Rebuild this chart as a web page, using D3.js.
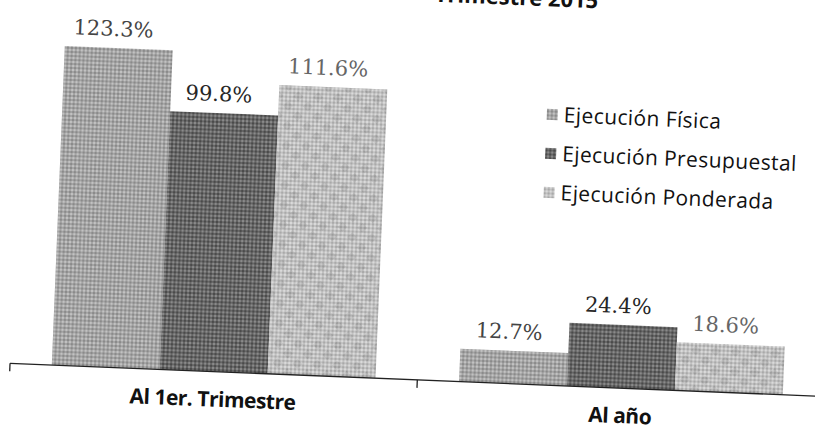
<!DOCTYPE html>
<html>
<head>
<meta charset="utf-8">
<script src="https://cdn.jsdelivr.net/npm/d3@7"></script>
<style>
  html, body { margin: 0; padding: 0; background: #fff; }
  svg { display: block; }
</style>
</head>
<body>
<script>
// ---- data ----
const categories = ["Al 1er. Trimestre", "Al año"];
const series = ["Ejecución Física", "Ejecución Presupuestal", "Ejecución Ponderada"];
const fisica = [123.3, 12.7];
const presupuestal = [99.8, 24.4];
const ponderada = [111.6, 18.6];
const titleLines = ["Avance Físico y Presupuestal al 1er.", "Trimestre 2015"];

const seriesValues = [fisica, presupuestal, ponderada];
const W = 815, H = 430;
const ANGLE = 2.33; // scanned page is slightly rotated

const svg = d3.select("body").append("svg").attr("width", W).attr("height", H);
svg.append("rect").attr("width", W).attr("height", H).attr("fill", "#fff");

// halftone-like patterns
const defs = svg.append("defs");
const patSpec = [
  { id: "p0", a: "#8a8a8a", b: "#c2c2c2", c: "#a4a4a4" },
  { id: "p1", a: "#4a4a4a", b: "#8a8a8a", c: "#666666" },
  { id: "p2", a: "#a9a9a9", b: "#dadada", c: "#c2c2c2" }
];
patSpec.forEach(p => {
  const pt = defs.append("pattern").attr("id", p.id)
    .attr("patternUnits", "userSpaceOnUse").attr("width", 4).attr("height", 4);
  pt.append("rect").attr("width", 4).attr("height", 4).attr("fill", p.c);
  pt.append("rect").attr("x", 0).attr("y", 0).attr("width", 2).attr("height", 2).attr("fill", p.a);
  pt.append("rect").attr("x", 2).attr("y", 2).attr("width", 2).attr("height", 2).attr("fill", p.b);
});
// coarse diamond texture for weighted series
const dia = defs.append("pattern").attr("id", "dia")
  .attr("patternUnits", "userSpaceOnUse").attr("width", 14).attr("height", 14)
  .attr("patternTransform", "rotate(45)");
dia.append("rect").attr("width", 7).attr("height", 7).attr("fill", "#000").attr("opacity", 0.08);

const g = svg.append("g").attr("transform", `rotate(${ANGLE})`);

// scales
const x0 = d3.scaleBand().domain(categories).range([24.8, 840]);
const x1 = d3.scaleBand().domain(series).range([0, x0.bandwidth()]).paddingOuter(0.387);
const y = d3.scaleLinear().domain([0, 140]).range([362.6, 0]);
const color = d3.scaleOrdinal().domain(series).range(["url(#p0)", "url(#p1)", "url(#p2)"]);
const labelColor = d3.scaleOrdinal().domain(series).range(["#444", "#262626", "#666"]);

// title (only the bottom edge of its last line shows in the scan)
g.append("text")
  .attr("text-anchor", "middle")
  .attr("font-family", "'Open Sans', sans-serif")
  .attr("font-weight", "bold").attr("font-size", 22)
  .attr("fill", "#111")
  .selectAll("tspan").data(titleLines).join("tspan")
  .attr("x", 516).attr("y", (d, i) => -16 - (titleLines.length - 1 - i) * 28)
  .text(d => d);

// bars
const rows = categories.map((c, i) => series.map((s, j) => ({ c, s, v: seriesValues[j][i] })));
const grp = g.selectAll("g.cat").data(rows).join("g")
  .attr("class", "cat")
  .attr("transform", d => `translate(${x0(d[0].c)},0)`);

grp.selectAll("rect.bar").data(d => d).join("rect")
  .attr("class", "bar")
  .attr("x", d => x1(d.s)).attr("width", x1.bandwidth())
  .attr("y", d => y(d.v)).attr("height", d => y(0) - y(d.v))
  .attr("fill", d => color(d.s));

grp.selectAll("rect.tex").data(d => d.filter(e => e.s === series[2])).join("rect")
  .attr("class", "tex")
  .attr("x", d => x1(d.s)).attr("width", x1.bandwidth())
  .attr("y", d => y(d.v)).attr("height", d => y(0) - y(d.v))
  .attr("fill", "url(#dia)");

grp.selectAll("text.lbl").data(d => d).join("text")
  .attr("class", "lbl")
  .attr("x", d => x1(d.s) + x1.bandwidth() / 2 - 6)
  .attr("y", d => y(d.v) - 12)
  .attr("text-anchor", "middle")
  .attr("font-family", "'DejaVu Serif', serif")
  .attr("font-size", 21)
  .attr("fill", d => labelColor(d.s))
  .text(d => d3.format(".1f")(d.v) + "%");

// axis
const r = x0.range();
g.append("line").attr("x1", r[0]).attr("x2", r[1]).attr("y1", y(0)).attr("y2", y(0))
  .attr("stroke", "#222").attr("stroke-width", 1.3);
const tickPos = [r[0]].concat(categories.map(c => x0(c) + x0.bandwidth()));
g.selectAll("line.tick").data(tickPos).join("line")
  .attr("class", "tick")
  .attr("x1", d => d).attr("x2", d => d)
  .attr("y1", y(0)).attr("y2", y(0) + 8)
  .attr("stroke", "#222").attr("stroke-width", 1.3);

g.selectAll("text.cat").data(categories).join("text")
  .attr("class", "cat")
  .attr("x", d => x0(d) + x0.bandwidth() / 2)
  .attr("y", y(0) + 35)
  .attr("text-anchor", "middle")
  .attr("font-family", "'Open Sans', sans-serif")
  .attr("font-weight", "bold").attr("font-size", 21)
  .attr("letter-spacing", -0.5)
  .attr("fill", "#111")
  .text(d => d);

// legend
const leg = g.append("g").attr("transform", "translate(551,92)");
const li = leg.selectAll("g").data(series).join("g")
  .attr("transform", (d, i) => `translate(0,${i * 39})`);
li.append("rect").attr("x", 0).attr("y", -5.5).attr("width", 11).attr("height", 11)
  .attr("fill", d => color(d));
li.append("text").attr("x", 17).attr("y", 0).attr("dy", "0.35em")
  .attr("font-family", "'Open Sans', sans-serif")
  .attr("font-size", 21).attr("letter-spacing", 0.4)
  .attr("fill", "#111")
  .text(d => d);
</script>
</body>
</html>
